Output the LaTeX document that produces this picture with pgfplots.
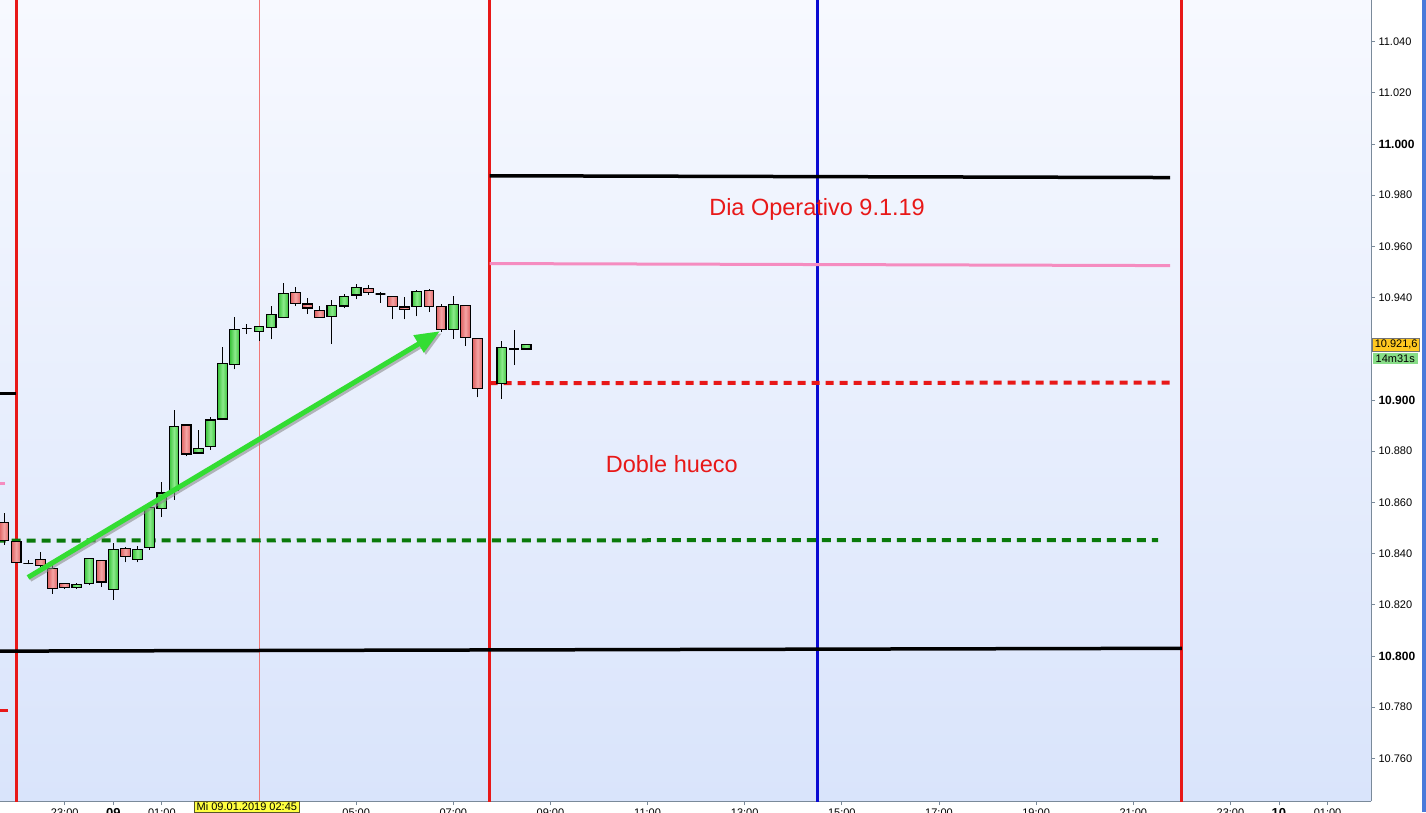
\documentclass[border=0pt]{standalone}
\usepackage{pgfplots}
\pgfplotsset{compat=1.18}
\usepackage{pgfplotstable}
\usepackage{fontspec}
\setmainfont{Liberation Sans}
\usetikzlibrary{arrows.meta}

\definecolor{bgtop}{HTML}{F7F9FF}
\definecolor{bgbot}{HTML}{D9E4FB}
\definecolor{upE}{HTML}{3CC43C}
\definecolor{upM}{HTML}{8CEB8C}
\definecolor{dnE}{HTML}{DE6262}
\definecolor{dnM}{HTML}{F5A5A5}
\definecolor{axgray}{HTML}{7A8A9A}
\definecolor{lred}{HTML}{E81818}
\definecolor{lblue}{HTML}{0A0AD2}
\definecolor{lpink}{HTML}{F58CC0}
\definecolor{lthin}{HTML}{F07878}
\definecolor{lgreen}{HTML}{0A7A0A}
\definecolor{arrowgreen}{HTML}{33DD33}
\definecolor{pricebox}{HTML}{FFC820}
\definecolor{timerbox}{HTML}{88DD88}
\definecolor{cursorbox}{HTML}{FFFF40}
\definecolor{edgeblue}{HTML}{4A7ADA}

% 15-minute candles, time in hours from 09.01 00:00
\pgfplotstableread{
x      o        h        l        c
-2.25  10852.2  10855.9  10843.5  10845.1
-2.00  10844.8  10845.0  10836.2  10836.4
-1.75  10836.2  10837.6  10835.8  10836.2
-1.50  10837.6  10840.8  10832.7  10835.2
-1.25  10834.1  10835.4  10824.3  10826.3
-1.00  10828.2  10828.6  10826.3  10826.7
-0.75  10826.9  10828.5  10826.3  10828.0
-0.50  10828.2  10838.2  10827.6  10838.0
-0.25  10837.2  10837.4  10826.9  10828.9
0.00   10825.9  10844.1  10822.0  10841.5
0.25   10842.0  10842.5  10836.6  10838.9
0.50   10837.6  10842.8  10836.6  10841.5
0.75   10842.5  10858.8  10841.5  10858.1
1.00   10857.5  10867.8  10854.2  10863.7
1.25   10864.6  10896.1  10861.0  10889.8
1.50   10890.2  10890.3  10878.0  10878.9
1.75   10879.3  10888.4  10879.2  10880.9
2.00   10881.8  10893.2  10880.5  10892.2
2.25   10892.6  10920.7  10892.5  10914.4
2.50   10914.0  10932.4  10912.0  10927.6
2.75   10927.8  10929.8  10925.7  10927.8
3.00   10926.9  10929.0  10923.1  10928.8
3.25   10928.3  10936.7  10923.7  10933.5
3.50   10932.2  10945.6  10932.0  10941.7
3.75   10942.1  10944.3  10936.7  10937.8
4.00   10937.5  10940.0  10933.7  10935.9
4.25   10935.0  10936.6  10932.3  10932.3
4.50   10932.7  10938.9  10921.8  10937.0
4.75   10936.7  10941.3  10935.8  10940.5
5.00   10941.0  10945.2  10939.3  10944.0
5.25   10943.6  10944.8  10941.0  10942.1
5.50   10941.4  10942.3  10938.0  10941.4
5.75   10940.5  10940.5  10931.5  10936.6
6.00   10936.3  10940.2  10931.5  10935.4
6.25   10936.6  10943.0  10932.7  10942.5
6.50   10942.8  10943.2  10934.3  10936.6
6.75   10936.6  10937.4  10926.6  10927.5
7.00   10927.5  10940.6  10924.0  10937.4
7.25   10937.0  10937.0  10921.0  10924.5
7.50   10924.1  10924.1  10901.0  10904.6
8.00   10906.6  10923.1  10900.4  10920.6
8.25   10919.9  10927.3  10913.6  10919.9
8.50   10919.9  10922.0  10919.9  10921.6
}\candles
\pgfplotstablegetrowsof{\candles}
\pgfmathtruncatemacro\lastrow{\pgfplotsretval-1}

\begin{document}
\begin{tikzpicture}
\fill[white] (0pt,-11pt) rectangle (1426pt,801pt);
\fill[edgeblue] (1421.5pt,-11pt) rectangle (1426pt,801pt);
\begin{axis}[
  at={(0pt,0pt)}, anchor=south west,
  scale only axis, width=1371pt, height=801pt,
  xmin=-2.333, xmax=25.895, ymin=10743.35, ymax=11056.26,
  clip mode=individual,
  scaled y ticks=false, scaled x ticks=false,
  axis background/.style={top color=bgtop, bottom color=bgbot},
  axis x line=bottom, axis y line=right,
  axis line style={-, draw=axgray, line width=1pt},
  tick align=outside, major tick length=4pt,
  tick style={axgray, line width=0.8pt},
  xtick={-1,0,1,5,7,9,11,13,15,17,19,21,23,24,25},
  xticklabels={23:00,\textbf{\fontsize{13}{13}\selectfont 09},01:00,05:00,07:00,09:00,11:00,13:00,15:00,17:00,19:00,21:00,23:00,\textbf{\fontsize{13}{13}\selectfont 10},01:00},
  extra x ticks={2.75}, extra x tick labels={},
  extra x tick style={tick style={black, line width=1pt}},
  xticklabel style={font=\fontsize{11}{12}\selectfont, anchor=north, yshift=0pt},
  % the 10.920 label sits under the live price tag
  ytick={10760,10780,10800,10820,10840,10860,10880,10900,10920,10940,10960,10980,11000,11020,11040},
  yticklabels={10.760,10.780,\textbf{\fontsize{12}{12}\selectfont 10.800},10.820,10.840,10.860,10.880,\textbf{\fontsize{12}{12}\selectfont 10.900},{},10.940,10.960,10.980,\textbf{\fontsize{12}{12}\selectfont 11.000},11.020,11.040},
  yticklabel style={font=\fontsize{11}{12}\selectfont, anchor=west, xshift=0pt},
]

% session separators and marker lines
\addplot[lred, line width=3pt] coordinates {(-2.0,10700) (-2.0,11100)};
\addplot[lred, line width=3pt] coordinates {(7.75,10700) (7.75,11100)};
\addplot[lred, line width=3pt] coordinates {(22.0,10700) (22.0,11100)};
\addplot[lblue, line width=3pt] coordinates {(14.5,10700) (14.5,11100)};
\addplot[lthin, line width=0.8pt] coordinates {(3.0,10700) (3.0,11100)};

% levels of the previous session
\addplot[black, line width=3pt] coordinates {(-2.4,10902.7) (-2.0,10902.7)};
\addplot[lpink, line width=3pt] coordinates {(-2.4,10867.5) (-2.23,10867.5)};
\addplot[lred, line width=3.5pt] coordinates {(-2.4,10778.7) (-2.17,10778.7)};

% levels for the session of 9.1.19
\addplot[black, line width=3.5pt] coordinates {(7.75,10987.6) (21.76,10986.9)};
\addplot[lpink, line width=3pt] coordinates {(7.75,10953.3) (21.76,10952.5)};
\addplot[lred, line width=4pt, dash pattern=on 8pt off 6pt] coordinates {(7.75,10906.6) (21.76,10906.8)};
\addplot[lgreen, line width=4pt, dash pattern=on 9pt off 6pt] coordinates {(-2.4,10845.1) (21.51,10845.3)};
\addplot[black, line width=3.5pt] coordinates {(-2.4,10801.9) (22.0,10803.0)};

% candles
\pgfplotsforeachungrouped \i in {0,...,\lastrow}{%
  \pgfplotstablegetelem{\i}{x}\of\candles \let\cx\pgfplotsretval
  \pgfplotstablegetelem{\i}{o}\of\candles \let\co\pgfplotsretval
  \pgfplotstablegetelem{\i}{h}\of\candles \let\ch\pgfplotsretval
  \pgfplotstablegetelem{\i}{l}\of\candles \let\cl\pgfplotsretval
  \pgfplotstablegetelem{\i}{c}\of\candles \let\cc\pgfplotsretval
  \pgfmathsetmacro\xa{\cx-0.1}%
  \pgfmathsetmacro\xb{\cx+0.1}%
  \pgfmathtruncatemacro\up{\cc>\co}%
  \ifnum\up=1 \def\ce{upE}\def\cm{upM}\else\def\ce{dnE}\def\cm{dnM}\fi
  \edef\tmp{%
    \noexpand\addplot[black, line width=1pt] coordinates {(\cx,\cl) (\cx,\ch)};
    \noexpand\addplot[draw=black, line width=1.2pt, left color=\ce, right color=\ce, middle color=\cm]
      coordinates {(\xa,\co) (\xb,\co) (\xb,\cc) (\xa,\cc)} -- cycle;
  }\tmp
}

% trend arrow
\addplot[black!45, opacity=0.6, line width=5pt, xshift=2pt, yshift=-2pt, -{Triangle[length=25pt,width=19pt]}]
  coordinates {(-1.756,10830.7) (6.726,10926.9)};
\addplot[arrowgreen, line width=5pt, -{Triangle[length=25pt,width=19pt]}]
  coordinates {(-1.756,10830.7) (6.726,10926.9)};

\node[text=lred, font=\fontsize{23.5}{26}\selectfont] at (axis cs:14.49,10974.5) {Dia Operativo 9.1.19};
\node[text=lred, font=\fontsize{23.5}{26}\selectfont] at (axis cs:11.5,10875.1) {Doble hueco};

% price and countdown tags on the price scale
\node[fill=pricebox, draw=black!55, line width=0.6pt, inner xsep=2pt, inner ysep=2pt,
  anchor=west, font=\fontsize{11}{12}\selectfont]
  (price) at (axis cs:25.925,10921.7) {10.921,6};
\node[fill=timerbox, inner xsep=3pt, inner ysep=2pt, anchor=north west,
  font=\fontsize{11}{12}\selectfont] at ([yshift=-1.2pt]price.south west) {14m31s};

% crosshair time tag
\node[fill=cursorbox, draw=black!50!olive, line width=0.8pt, inner xsep=2pt, inner ysep=1.5pt,
  anchor=north, font=\fontsize{11}{12}\selectfont] at (axis cs:2.75,10743.35) {Mi 09.01.2019 02:45};
\end{axis}
\pgfresetboundingbox
\useasboundingbox (0pt,-11pt) rectangle (1426pt,801pt);
\end{tikzpicture}
\end{document}
